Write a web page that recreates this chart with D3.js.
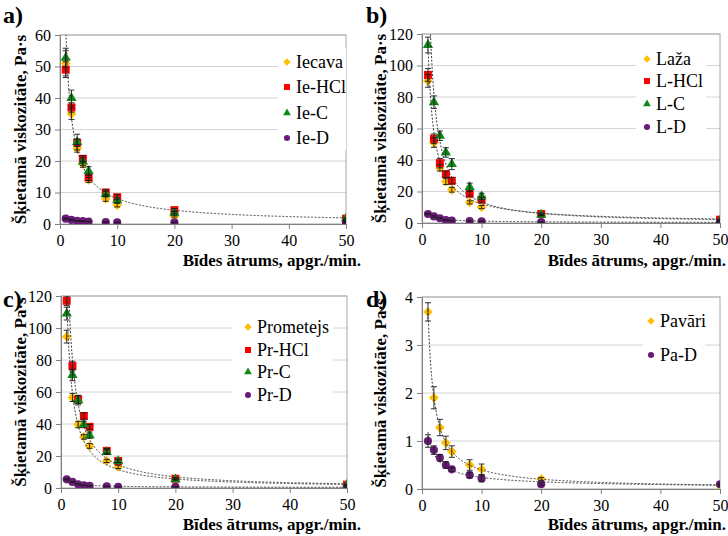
<!DOCTYPE html>
<html>
<head>
<meta charset="utf-8">
<script src="https://cdn.jsdelivr.net/npm/d3@7"></script>
<style>
  html, body { margin: 0; padding: 0; background: #fff; }
  svg { display: block; }
</style>
</head>
<body>
<svg id="chart" width="728" height="536"></svg>
<script>
// Shear rate, rpm
const rpm = [1, 2, 3, 4, 5, 8, 10, 20, 50];
const xTicks = [0, 10, 20, 30, 40, 50];

// a) Iecava
const iecava    = [51, 35, 24, 19, 14, 8, 6, 2.5, 1];
const iecavaErr = [4, 1.8, 1.2, 1, 0.8, 0.8, 0.6, 0.3, 0.2];
const ieHCl     = [49, 37, 25.8, 20.7, 14.8, 10, 8.5, 4.4, 1.7];
const ieHClErr  = [2.5, 1.5, 1.2, 1, 1, 0.8, 0.8, 0.5, 0.3];
const ieC       = [52.8, 40, 26, 19.8, 16.8, 9.5, 7.5, 3.6, 1.7];
const ieCErr    = [3, 2.5, 2.5, 1.2, 1.4, 0.9, 0.8, 0.4, 0.3];
const ieD       = [1.7, 1.3, 1.0, 0.9, 0.8, 0.6, 0.5, 0.5, 0.4];
const ieDErr    = [0.2, 0.15, 0.1, 0.1, 0.1, 0.1, 0.1, 0.1, 0.1];
const yTicksA   = [0, 10, 20, 30, 40, 50, 60];

// b) Laža
const laza      = [90.2, 51, 35, 26.4, 21.1, 13.1, 10.1, 5.3, 2];
const lazaErr   = [4, 3, 2, 2, 1.5, 1, 1, 0.5, 0.3];
const lHCl      = [94, 53.5, 38, 31, 26.8, 18.6, 14.8, 5.7, 2.1];
const lHClErr   = [4, 3, 3, 2, 2, 1.5, 1.5, 0.6, 0.3];
const lC        = [113, 76.7, 55.4, 44.8, 37.4, 22.8, 16.9, 5.3, 1.5];
const lCErr     = [5, 4, 3, 3, 3.5, 2.5, 2, 0.8, 0.3];
const lD        = [5.7, 4.2, 3, 1.9, 1.5, 1.3, 1.1, 0.6, 0.6];
const lDErr     = [0.4, 0.4, 0.3, 0.3, 0.2, 0.2, 0.2, 0.1, 0.1];
const yTicksB   = [0, 20, 40, 60, 80, 100, 120];

// c) Prometejs
const prometejs    = [94.6, 56.6, 39.7, 32, 26.3, 16.9, 13.2, 5.8, 1.7];
const prometejsErr = [4, 2.5, 2, 1.5, 1.5, 1, 1, 0.5, 0.3];
const prHCl        = [117, 76.2, 55.3, 45, 38.2, 23.2, 16.9, 5.8, 2.1];
const prHClErr     = [3, 3, 2.5, 2, 1.5, 1.5, 1, 0.5, 0.3];
const prC          = [109, 70.6, 54.9, 39.7, 33, 22.5, 16.9, 5.4, 2.1];
const prCErr       = [4, 3.5, 3, 2, 2, 1.5, 1, 0.5, 0.3];
const prD          = [5.4, 3.8, 2.3, 1.7, 1.3, 1.0, 0.8, 0.8, 0.6];
const prDErr       = [0.4, 0.3, 0.3, 0.2, 0.2, 0.1, 0.1, 0.1, 0.1];
const yTicksC      = [0, 20, 40, 60, 80, 100, 120];

// d) Pavāri
const pavari    = [3.69, 1.90, 1.28, 0.96, 0.78, 0.50, 0.41, 0.21, 0.08];
const pavariErr = [0.19, 0.23, 0.17, 0.14, 0.12, 0.11, 0.11, 0.03, 0.02];
const paD       = [1.0, 0.81, 0.65, 0.50, 0.41, 0.29, 0.22, 0.10, 0.10];
const paDErr    = [0.13, 0.09, 0.07, 0.07, 0.04, 0.06, 0.07, 0.03, 0.02];
const yTicksD   = [0, 1, 2, 3, 4];

const COLORS = { orange: "#FFC000", red: "#FF0000", green: "#0E8A16", purple: "#6A1B7A" };
const SERIF = '"Liberation Serif"';

const panels = [
  { tag: "a)", tagX: 3, tagY: 23, box: [60, 35, 346, 224], yMax: 60, yTicks: yTicksA, yTitleX: 20, xTitleX: 361, xTitleY: 266,
    legend: { x: 287, ys: [62, 87, 113, 138], bg: [278, 48, 68, 102] },
    series: [
      { name: "Iecava", v: iecava, e: iecavaErr, shape: "diamond", color: COLORS.orange },
      { name: "Ie-HCl", v: ieHCl, e: ieHClErr, shape: "square", color: COLORS.red, trend: true },
      { name: "Ie-C", v: ieC, e: ieCErr, shape: "triangle", color: COLORS.green },
      { name: "Ie-D", v: ieD, e: ieDErr, shape: "circle", color: COLORS.purple }
    ] },
  { tag: "b)", tagX: 366, tagY: 23, box: [422, 34, 720, 223], yMax: 120, yTicks: yTicksB, yTitleX: 380, xTitleX: 726, xTitleY: 266,
    legend: { x: 647, ys: [59, 81, 104, 127], bg: [636, 46, 70, 94] },
    series: [
      { name: "Laža", v: laza, e: lazaErr, shape: "diamond", color: COLORS.orange },
      { name: "L-HCl", v: lHCl, e: lHClErr, shape: "square", color: COLORS.red, trend: true },
      { name: "L-C", v: lC, e: lCErr, shape: "triangle", color: COLORS.green, trend: true },
      { name: "L-D", v: lD, e: lDErr, shape: "circle", color: COLORS.purple, trend: true }
    ] },
  { tag: "c)", tagX: 3, tagY: 307, box: [61, 296, 347, 488], yMax: 120, yTicks: yTicksC, yTitleX: 20, xTitleX: 361, xTitleY: 530,
    legend: { x: 248, ys: [327, 350, 372, 395], bg: [233, 312, 100, 96] },
    series: [
      { name: "Prometejs", v: prometejs, e: prometejsErr, shape: "diamond", color: COLORS.orange, trend: true },
      { name: "Pr-HCl", v: prHCl, e: prHClErr, shape: "square", color: COLORS.red, trend: true },
      { name: "Pr-C", v: prC, e: prCErr, shape: "triangle", color: COLORS.green },
      { name: "Pr-D", v: prD, e: prDErr, shape: "circle", color: COLORS.purple, trend: true }
    ] },
  { tag: "d)", tagX: 366, tagY: 307, box: [422, 297, 720, 489], yMax: 4, yTicks: yTicksD, yTitleX: 380, xTitleX: 726, xTitleY: 530,
    legend: { x: 651, ys: [321, 355], bg: [643, 305, 62, 68] },
    series: [
      { name: "Pavāri", v: pavari, e: pavariErr, shape: "diamond", color: COLORS.orange, trend: true },
      { name: "Pa-D", v: paD, e: paDErr, shape: "circle", color: COLORS.purple, trend: true }
    ] }
];

const svg = d3.select("#chart");

const symbolPath = (shape, scale) => {
  const s = scale || 1;
  if (shape === "diamond") return d3.symbol(d3.symbolSquare, 48 * s * s)();
  if (shape === "square") return d3.symbol(d3.symbolSquare, 64 * s * s)();
  if (shape === "triangle") return d3.symbol(d3.symbolTriangle, 46 * s * s)();
  return d3.symbol(d3.symbolCircle, 52 * s * s)();
};
const symbolRot = shape => shape === "diamond" ? " rotate(45)" : "";

// Least-squares power fit y = a·x^b on log-log axes (spreadsheet style trendline)
function powerFit(xs, ys) {
  const lx = xs.map(Math.log), ly = ys.map(Math.log);
  const mx = d3.mean(lx), my = d3.mean(ly);
  const b = d3.sum(lx, (v, i) => (v - mx) * (ly[i] - my)) / d3.sum(lx, v => (v - mx) * (v - mx));
  const a = Math.exp(my - b * mx);
  return x => a * Math.pow(x, b);
}

panels.forEach((p, pi) => {
  const [x0, y0, x1, y1] = p.box;
  const x = d3.scaleLinear().domain([0, 50]).range([x0, x1]);
  const y = d3.scaleLinear().domain([0, p.yMax]).range([y1, y0]);
  const g = svg.append("g");

  const clipId = "clip" + pi;
  g.append("clipPath").attr("id", clipId)
    .append("rect").attr("x", x0).attr("y", y0).attr("width", x1 - x0).attr("height", y1 - y0);

  // horizontal gridlines
  g.append("g").selectAll("line").data(p.yTicks.filter(t => t > 0)).join("line")
    .attr("x1", x0).attr("x2", x1).attr("y1", d => y(d)).attr("y2", d => y(d))
    .attr("stroke", "#d4d4d4").attr("stroke-width", 1);

  // frame
  g.append("rect").attr("x", x0).attr("y", y0).attr("width", x1 - x0).attr("height", y1 - y0)
    .attr("fill", "none").attr("stroke", "#a6a6a6").attr("stroke-width", 1);

  // legend backdrop
  const lb = p.legend.bg;
  g.append("rect").attr("x", lb[0]).attr("y", lb[1]).attr("width", lb[2]).attr("height", lb[3]).attr("fill", "#fff");

  // axes
  const xAxis = g.append("g").attr("transform", `translate(0,${y1})`)
    .call(d3.axisBottom(x).tickValues(xTicks).tickSize(5).tickSizeOuter(0).tickPadding(6));
  const yAxis = g.append("g").attr("transform", `translate(${x0},0)`)
    .call(d3.axisLeft(y).tickValues(p.yTicks).tickSize(5).tickSizeOuter(0).tickPadding(4).tickFormat(d3.format("d")));
  [xAxis, yAxis].forEach(ax => {
    ax.select(".domain").attr("stroke", "#808080");
    ax.selectAll(".tick line").attr("stroke", "#808080");
    ax.selectAll(".tick text").attr("fill", "#000")
      .style("font-family", SERIF).style("font-size", "16px");
  });

  const plot = g.append("g").attr("clip-path", `url(#${clipId})`);

  // markers
  p.series.forEach(s => {
    plot.append("g").selectAll("path").data(s.v).join("path")
      .attr("d", symbolPath(s.shape))
      .attr("transform", (d, i) => `translate(${x(rpm[i])},${y(d)})` + symbolRot(s.shape))
      .attr("fill", s.color);
  });

  // error bars
  p.series.forEach(s => {
    const eb = plot.append("g").attr("stroke", "#1a1a1a").attr("stroke-width", 0.9);
    s.v.forEach((d, i) => {
      const cx = x(rpm[i]), lo = y(d - s.e[i]), hi = y(d + s.e[i]);
      eb.append("line").attr("x1", cx).attr("x2", cx).attr("y1", lo).attr("y2", hi);
      eb.append("line").attr("x1", cx - 3).attr("x2", cx + 3).attr("y1", lo).attr("y2", lo);
      eb.append("line").attr("x1", cx - 3).attr("x2", cx + 3).attr("y1", hi).attr("y2", hi);
    });
  });

  // power trendlines
  p.series.filter(s => s.trend).forEach(s => {
    const f = powerFit(rpm, s.v);
    const xs = d3.range(1, 50.01, 0.1);
    plot.append("path")
      .attr("d", d3.line().x(d => x(d)).y(d => y(f(d)))(xs))
      .attr("fill", "none").attr("stroke", "#3a3a3a").attr("stroke-width", 1)
      .attr("stroke-dasharray", "2,1.6");
  });

  // legend
  p.series.forEach((s, i) => {
    const ly = p.legend.ys[i];
    g.append("path").attr("d", symbolPath(s.shape, 0.75))
      .attr("transform", `translate(${p.legend.x},${ly})` + symbolRot(s.shape))
      .attr("fill", s.color);
    g.append("text").attr("x", p.legend.x + 9).attr("y", ly + 6)
      .style("font-family", SERIF).style("font-size", "18px").text(s.name);
  });

  // titles
  g.append("text").attr("x", p.tagX).attr("y", p.tagY)
    .style("font-family", SERIF).style("font-size", "24px").style("font-weight", "bold").text(p.tag);
  g.append("text").attr("text-anchor", "middle")
    .attr("transform", `translate(${p.yTitleX + 6},${(y0 + y1) / 2}) rotate(-90)`)
    .style("font-family", SERIF).style("font-size", "17px").style("font-weight", "bold")
    .text("Šķietamā viskozitāte, Pa·s");
  g.append("text").attr("text-anchor", "end").attr("x", p.xTitleX).attr("y", p.xTitleY)
    .style("font-family", SERIF).style("font-size", "17px").style("font-weight", "bold")
    .text("Bīdes ātrums, apgr./min.");
});
</script>
</body>
</html>
